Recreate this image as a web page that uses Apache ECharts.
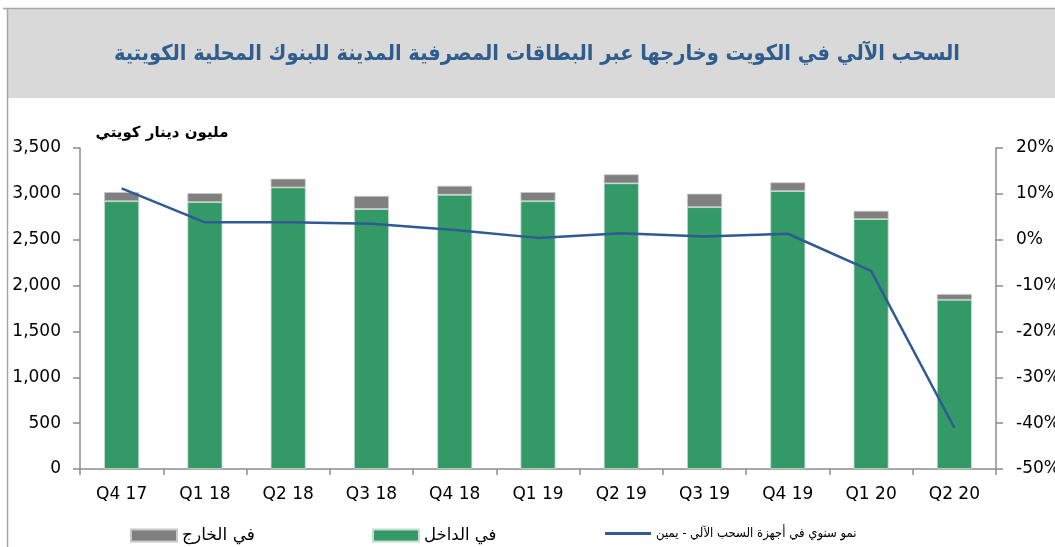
<!DOCTYPE html>
<html>
<head>
<meta charset="utf-8">
<script src="https://cdn.jsdelivr.net/npm/echarts@6/dist/echarts.min.js"></script>
<style>
html,body{margin:0;padding:0;background:#fff;}
#chart{width:1055px;height:547px;}
</style>
</head>
<body>
<div id="chart"></div>
<script>
const categories = ['Q4 17','Q1 18','Q2 18','Q3 18','Q4 18','Q1 19','Q2 19','Q3 19','Q4 19','Q1 20','Q2 20'];
const insideValues = [2920, 2910, 3070, 2835, 2990, 2920, 3115, 2855, 3030, 2725, 1845];
const outsideValues = [100, 98, 95, 142, 98, 100, 98, 147, 95, 90, 63];
const growthValues = [11.2, 3.8, 3.8, 3.5, 2.1, 0.4, 1.4, 0.7, 1.3, -6.8, -41.0];
const seriesNames = ['في الخارج', 'في الداخل', 'نمو سنوي في أجهزة السحب الآلي - يمين'];
const titleText = 'السحب الآلي في الكويت وخارجها عبر البطاقات المصرفية المدينة للبنوك المحلية الكويتية';
const unitText = 'مليون دينار كويتي';

const axisColor = '#8c8c8c';
const labelFont = {fontFamily:'DejaVu Sans', fontSize:17, color:'#000'};

const chart = echarts.init(document.getElementById('chart'), null, {renderer:'canvas'});
const option = {
  animation:false,
  backgroundColor:'#fff',
  graphic:[
    {type:'rect', z:-1, shape:{x:7, y:8, width:1060, height:90}, style:{fill:'#d9d9d9', stroke:null}},
    {type:'line', shape:{x1:3, y1:8.5, x2:1055, y2:8.5}, style:{stroke:'#a6a6a6', lineWidth:1.5}},
    {type:'line', shape:{x1:7.5, y1:8, x2:7.5, y2:547}, style:{stroke:'#a6a6a6', lineWidth:1.5}}
  ],
  title:[
    {text:titleText, left:532, top:38, textAlign:'center',
     textStyle:{fontFamily:'DejaVu Sans Condensed, DejaVu Sans', fontWeight:'bold', fontSize:21.6, color:'#2F5D8E'}},
    {text:unitText, left:157, top:121, textAlign:'center',
     textStyle:{fontFamily:'DejaVu Sans', fontWeight:'bold', fontSize:15, color:'#000'}}
  ],
  legend:[
    {data:[seriesNames[0]], left:125, top:522, itemWidth:46, itemHeight:12, itemGap:8, icon:'rect',
     textStyle:{fontFamily:'DejaVu Sans', fontSize:17, color:'#000'}},
    {data:[seriesNames[1]], left:367, top:522, itemWidth:46, itemHeight:12, icon:'rect',
     textStyle:{fontFamily:'DejaVu Sans', fontSize:16.5, color:'#000'}},
    {data:[seriesNames[2]], left:600, top:522, itemWidth:46, itemHeight:3, icon:'rect',
     textStyle:{fontFamily:'DejaVu Sans Condensed, DejaVu Sans', fontSize:13, color:'#000'}}
  ],
  grid:{left:80, right:59, top:148, bottom:78, containLabel:false, outerBoundsMode:'none'},
  xAxis:{
    type:'category', data:categories, boundaryGap:true,
    axisLine:{lineStyle:{color:axisColor, width:1.5}},
    axisTick:{show:true, length:6, inside:false, alignWithLabel:false, lineStyle:{color:axisColor, width:1.5}},
    axisLabel:Object.assign({margin:17, interval:0}, labelFont),
    splitLine:{show:false}
  },
  yAxis:[
    {type:'value', min:0, max:3500, interval:500, position:'left',
     axisLine:{show:true, lineStyle:{color:axisColor, width:1.5}},
     axisTick:{show:true, length:7, lineStyle:{color:axisColor, width:1.5}},
     axisLabel:Object.assign({margin:19, formatter:v=>v.toLocaleString('en-US')}, labelFont),
     splitLine:{show:false}},
    {type:'value', min:-50, max:20, interval:10, position:'right',
     axisLine:{show:true, lineStyle:{color:axisColor, width:1.5}},
     axisTick:{show:true, length:7, lineStyle:{color:axisColor, width:1.5}},
     axisLabel:Object.assign({margin:20, formatter:'{value}%'}, labelFont),
     splitLine:{show:false}}
  ],
  series:[
    {name:seriesNames[1], type:'bar', stack:'total', data:insideValues, barWidth:35,
     itemStyle:{color:'#339966', borderColor:'#c8dccf', borderWidth:0.8}},
    {name:seriesNames[0], type:'bar', stack:'total', data:outsideValues, barWidth:35,
     itemStyle:{color:'#808080', borderColor:'#c8c8c8', borderWidth:0.8}},
    {name:seriesNames[2], type:'line', yAxisIndex:1, data:growthValues, symbol:'none',
     lineStyle:{color:'#2F5A94', width:2.5}, itemStyle:{color:'#2F5A94'}, z:5}
  ]
};
chart.setOption(option);
</script>
</body>
</html>
